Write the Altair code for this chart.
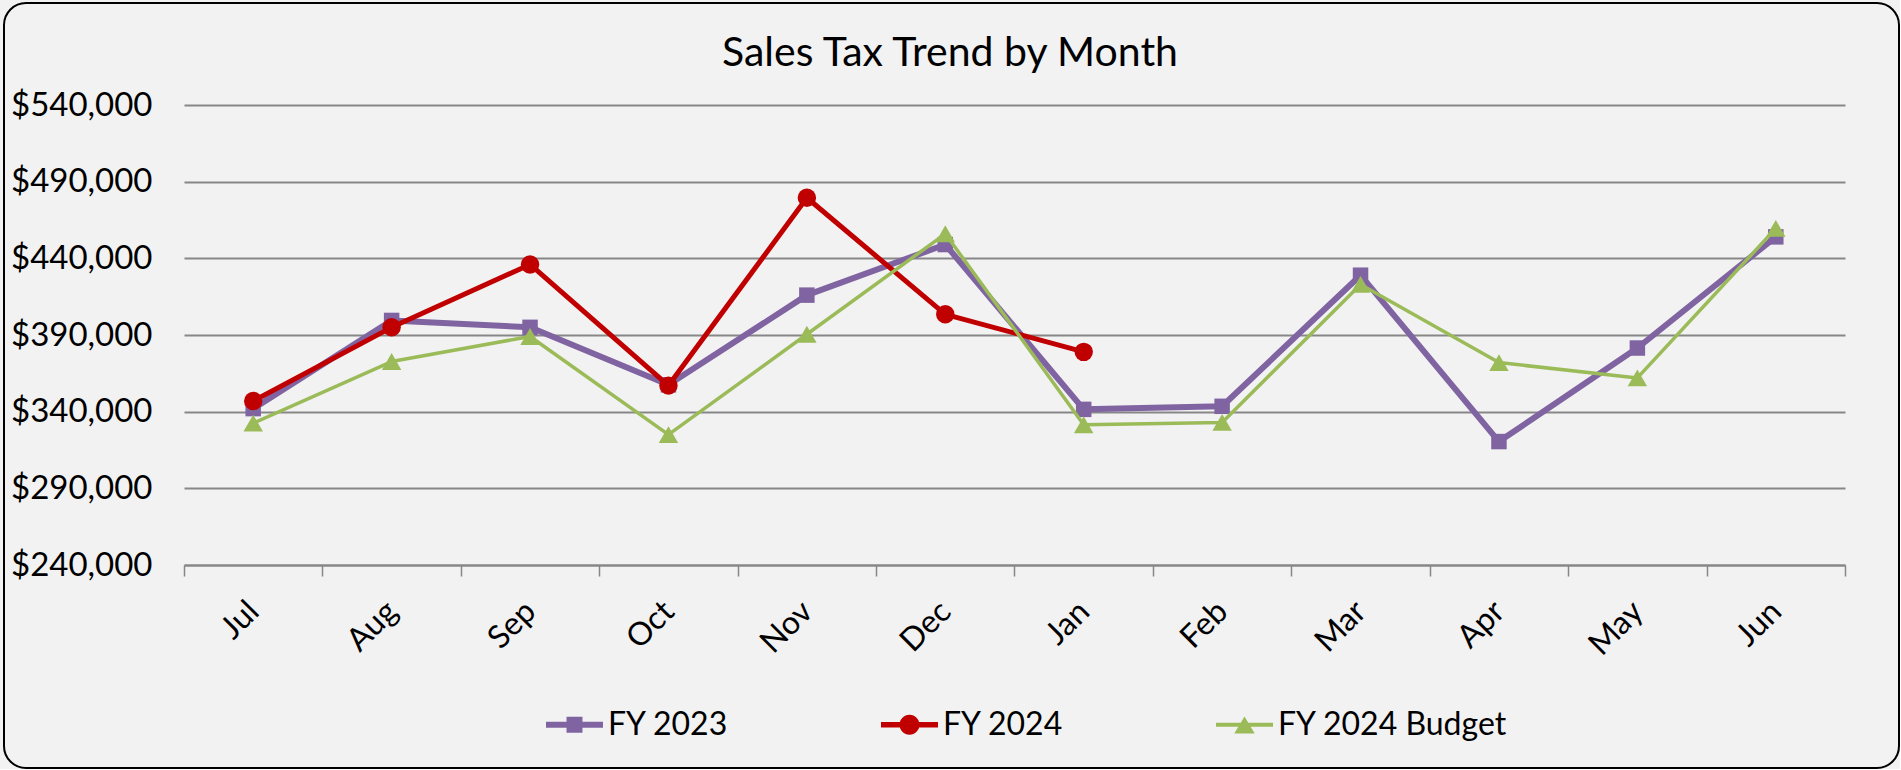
import altair as alt
import pandas as pd

# ---- data ----
months = ["Jul", "Aug", "Sep", "Oct", "Nov", "Dec", "Jan", "Feb", "Mar", "Apr", "May", "Jun"]
fy2023 = [342000, 399500, 395000, 357500, 416000, 449000, 341500, 343500, 429000, 320500, 381500, 454000]
fy2024 = [347000, 395000, 436000, 357000, 479500, 403500, 379000]
budget = [332500, 372700, 389000, 325000, 390500, 456000, 331500, 333000, 423000, 372000, 362000, 459500]
series_names = ["FY 2023", "FY 2024", "FY 2024 Budget"]
series_colors = ["#8064A2", "#C00000", "#9BBB59"]
y_ticks = [240000, 290000, 340000, 390000, 440000, 490000, 540000]
title_text = "Sales Tax Trend by Month"

FONT = "Lato"
GRID = "#878787"

rows = []
for name, vals in zip(series_names, [fy2023, fy2024, budget]):
    for m, v in zip(months, vals):
        rows.append({"Month": m, "Value": v, "Series": name})
df = pd.DataFrame(rows)

x_enc = alt.X(
    "Month:N",
    sort=months,
    scale=alt.Scale(type="band", domain=months, paddingInner=0, paddingOuter=0),
    axis=alt.Axis(
        title=None,
        grid=False,
        tickBand="extent",
        labelAngle=-45,
        labelAlign="right",
        labelBaseline="middle",
        labelPadding=30,
        labelFont=FONT,
        labelFontSize=32,
        labelColor="black",
        domainColor=GRID,
        domainWidth=2,
        tickColor=GRID,
        tickWidth=1.5,
        tickSize=11,
    ),
)
y_enc = alt.Y(
    "Value:Q",
    scale=alt.Scale(domain=[240000, 540000], zero=False, nice=False),
    axis=alt.Axis(
        title=None,
        values=y_ticks,
        format="$,.0f",
        ticks=False,
        tickSize=0,
        domain=False,
        grid=True,
        gridColor=GRID,
        gridWidth=1.8,
        labelPadding=32,
        labelFont=FONT,
        labelFontSize=33,
        labelColor="black",
    ),
)

# decorative frame and title
one = pd.DataFrame({"k": [0]})
frame = alt.Chart(one).mark_rect(
    cornerRadius=22, fill="#F2F2F2", fillOpacity=0, stroke="black", strokeWidth=2
).encode(
    x=alt.value(-180), x2=alt.value(1715), y=alt.value(-102), y2=alt.value(663)
)
title = alt.Chart(one).mark_text(
    text=title_text, font=FONT, fontSize=41, color="black",
    align="center", baseline="alphabetic"
).encode(x=alt.value(766), y=alt.value(-39))

line_widths = [6, 5, 3.5]
shapes = ["square", "circle", "triangle-up"]
sizes = [240, 340, 380]

layers = [frame, title]
for name, col, lw, shp, sz in zip(series_names, series_colors, line_widths, shapes, sizes):
    sub = df[df["Series"] == name]
    base = alt.Chart(sub).encode(x=x_enc, y=y_enc)
    layers.append(base.mark_line(color=col, strokeWidth=lw, strokeJoin="round", strokeCap="round"))
    layers.append(base.mark_point(shape=shp, filled=True, size=sz, color=col, opacity=1))

# legend symbols: line + marker, in unit coordinates
legend_paths = [
    "M-1,-0.105H1V0.105H-1Z M-0.28,-0.28H0.28V0.28H-0.28Z",
    "M-1,-0.095H1V0.095H-1Z M-0.35,0A0.35,0.35 0 1,1 0.35,0A0.35,0.35 0 1,1 -0.35,0Z",
    "M-1,-0.07H1V0.07H-1Z M0,-0.29L0.36,0.31L-0.36,0.31Z",
]
leg = alt.Legend(
    title=None,
    orient="none",
    legendX=362,
    legendY=591,
    direction="horizontal",
    columns=3,
    columnPadding=152,
    padding=0,
    labelFont=FONT,
    labelFontSize=32,
    labelColor="black",
    labelOffset=5,
    labelLimit=0,
    symbolSize=3249,
    symbolStrokeWidth=0,
)
legend_layer = alt.Chart(df).transform_filter("false").mark_point(
    filled=True, opacity=1, size=3249
).encode(
    color=alt.Color("Series:N", scale=alt.Scale(domain=series_names, range=series_colors), legend=leg),
    shape=alt.Shape("Series:N", scale=alt.Scale(domain=series_names, range=legend_paths), legend=leg),
)
layers.append(legend_layer)

chart = alt.layer(*layers).properties(
    width=1661,
    height=460,
    background="#F2F2F2",
    padding={"left": 3, "top": 2, "right": 0, "bottom": 0},
).configure_view(strokeWidth=0)

chart.save("out.html", embed_options={"renderer": "svg", "actions": False})
